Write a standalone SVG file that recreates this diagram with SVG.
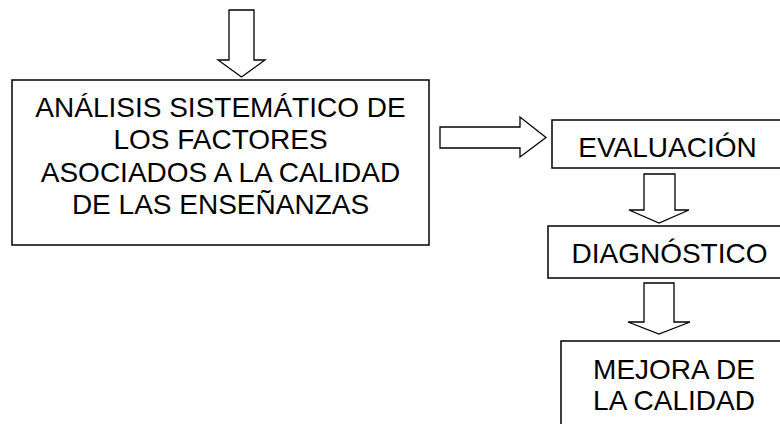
<svg xmlns="http://www.w3.org/2000/svg" width="780" height="424" viewBox="0 0 780 424">
<style>
.box{fill:#fff;stroke:#000;stroke-width:1.5}
.arr{fill:#fff;stroke:#000;stroke-width:1.3;stroke-linejoin:miter}
text{font-family:"Liberation Sans",Arial,sans-serif;font-size:28px;fill:#000;text-anchor:middle}
</style>
<rect width="780" height="424" fill="#fff"/>
<g id="connectors">
<polygon class="arr" points="229,10 254,10 254,60 265,60 241.5,77 218,60 229,60"/>
<polygon class="arr" points="440,127 520,127 520,117 546,137.5 520,157 520,148 440,148"/>
<polygon class="arr" points="644,174 675,174 675,210 689,210 659,223 629,210 644,210"/>
<polygon class="arr" points="644,283 674,283 674,322 690,322 659,334 628,322 644,322"/>
</g>
<g id="analisis">
<rect class="box" x="12" y="80" width="417" height="165"/>
<text x="220.5" y="117">ANÁLISIS SISTEMÁTICO DE</text>
<text x="220.5" y="149">LOS FACTORES</text>
<text x="220.5" y="182">ASOCIADOS A LA CALIDAD</text>
<text x="220.5" y="214">DE LAS ENSEÑANZAS</text>
</g>
<g id="evaluacion">
<rect class="box" x="552" y="120" width="240" height="48"/>
<text x="667.5" y="157">EVALUACIÓN</text>
</g>
<g id="diagnostico">
<rect class="box" x="548" y="226" width="240" height="52"/>
<text x="669.5" y="263">DIAGNÓSTICO</text>
</g>
<g id="mejora">
<rect class="box" x="561" y="341" width="230" height="100"/>
<text x="674" y="379">MEJORA DE</text>
<text x="674" y="410">LA CALIDAD</text>
</g>
</svg>
